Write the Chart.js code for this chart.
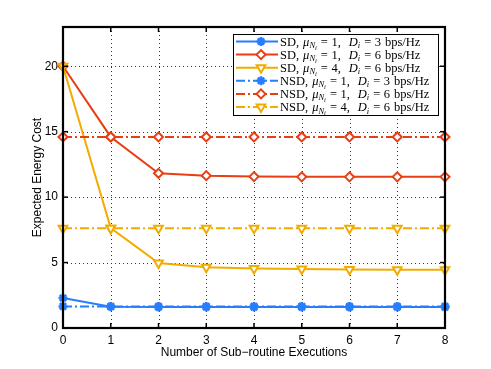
<!DOCTYPE html>
<html>
<head>
<meta charset="utf-8">
<script src="https://cdn.jsdelivr.net/npm/chart.js@4/dist/chart.umd.min.js"></script>
<style>
html,body{margin:0;padding:0;background:#fff;}
canvas{display:block;}
</style>
</head>
<body>
<canvas id="c" width="491" height="369"></canvas>
<script>
// ---- data ----
const xValues = [0, 1, 2, 3, 4, 5, 6, 7, 8];
const sdMu1D3  = [2.29, 1.62, 1.6, 1.6, 1.6, 1.6, 1.6, 1.6, 1.6];
const sdMu1D6  = [20, 14.6, 11.82, 11.64, 11.57, 11.55, 11.55, 11.55, 11.55];
const sdMu4D6  = [20, 7.63, 4.96, 4.65, 4.55, 4.5, 4.47, 4.45, 4.45];
const nsdMu1D3 = [1.65, 1.65, 1.65, 1.65, 1.65, 1.65, 1.65, 1.65, 1.65];
const nsdMu1D6 = [14.6, 14.6, 14.6, 14.6, 14.6, 14.6, 14.6, 14.6, 14.6];
const nsdMu4D6 = [7.63, 7.63, 7.63, 7.63, 7.63, 7.63, 7.63, 7.63, 7.63];
const yTicks = [0, 5, 10, 15, 20];
const xTicks = [0, 1, 2, 3, 4, 5, 6, 7, 8];
const seriesNames = ['SD', 'SD', 'SD', 'NSD', 'NSD', 'NSD'];
const seriesMu = ['1', '1', '4', '1', '1', '4'];
const seriesD = ['3', '6', '6', '3', '6', '6'];
const xTitle = 'Number of Sub\u2212routine Executions';
const yTitle = 'Expected Energy Cost';

const BLUE = 'rgb(40,125,255)';
const RED = 'rgb(232,62,20)';
const YEL = 'rgb(242,172,0)';
const DASHDOT = [9, 3, 2, 3];

function pts(arr){ return arr.map((v,i)=>({x:xValues[i], y:v})); }

function ds(data, color, style, dashed, idx, order){
  const base = {
    data: pts(data), borderColor: color, borderWidth: 2, borderDash: dashed ? DASHDOT : [],
    fill: false, tension: 0, clip: false, order: order,
    pointBorderColor: color, pointBorderWidth: 2, pointRadius: 5,
    pointBackgroundColor: '#fff', pointStyle: style, pointRotation: 0,
    label: seriesNames[idx]
  };
  if (style === 'star') { base.pointRadius = 4.5; base.pointBorderWidth = 2.5; base.pointBackgroundColor = color; }
  if (style === 'triangle') { base.pointRotation = 180; base.pointRadius = 5; }
  if (style === 'rectRot') { base.pointRadius = 4.5; }
  return base;
}

const datasets = [
  ds(sdMu1D3, BLUE, 'star', false, 0, 6),
  ds(sdMu1D6, RED, 'rectRot', false, 1, 5),
  ds(sdMu4D6, YEL, 'triangle', false, 2, 4),
  ds(nsdMu1D3, BLUE, 'star', true, 3, 3),
  ds(nsdMu1D6, RED, 'rectRot', true, 4, 2),
  ds(nsdMu4D6, YEL, 'triangle', true, 5, 1)
];

const frame = {
  id: 'frame',
  beforeDatasetsDraw(chart){
    const {ctx, chartArea: a, scales: {x, y}} = chart;
    ctx.save();
    ctx.strokeStyle = '#333';
    ctx.lineWidth = 1;
    ctx.setLineDash([1, 3]);
    xTicks.forEach(v => {
      const px = Math.round(x.getPixelForValue(v)) + 0.5;
      if (v === xTicks[0] || v === xTicks[xTicks.length-1]) return;
      ctx.beginPath(); ctx.moveTo(px, a.top); ctx.lineTo(px, a.bottom); ctx.stroke();
    });
    yTicks.forEach(v => {
      if (v === 0) return;
      const py = Math.round(y.getPixelForValue(v)) + 0.5;
      ctx.beginPath(); ctx.moveTo(a.left, py); ctx.lineTo(a.right, py); ctx.stroke();
    });
    ctx.restore();
  },
  afterDatasetsDraw(chart){
    const {ctx, chartArea: a, scales: {x, y}} = chart;
    ctx.save();
    ctx.setLineDash([]);
    ctx.strokeStyle = '#000';
    ctx.lineWidth = 1.5;
    const tl = 5;
    xTicks.forEach(v => {
      const px = x.getPixelForValue(v);
      ctx.beginPath(); ctx.moveTo(px, a.bottom); ctx.lineTo(px, a.bottom - tl); ctx.stroke();
      ctx.beginPath(); ctx.moveTo(px, a.top); ctx.lineTo(px, a.top + tl); ctx.stroke();
    });
    yTicks.forEach(v => {
      const py = y.getPixelForValue(v);
      ctx.beginPath(); ctx.moveTo(a.left, py); ctx.lineTo(a.left + tl, py); ctx.stroke();
      ctx.beginPath(); ctx.moveTo(a.right, py); ctx.lineTo(a.right - tl, py); ctx.stroke();
    });
    ctx.lineWidth = 2.2;
    ctx.strokeRect(a.left, a.top, a.right - a.left, a.bottom - a.top);

    // legend
    const bx = 233, by = 34, bw = 205, bh = 81;
    ctx.fillStyle = '#fff';
    ctx.fillRect(bx, by, bw, bh);
    ctx.lineWidth = 1;
    ctx.strokeStyle = '#000';
    ctx.strokeRect(bx + 0.5, by + 0.5, bw, bh);
    const rowH = 13.1;
    const serif = '"Liberation Serif", "DejaVu Serif", serif';
    for (let i = 0; i < datasets.length; i++) {
      const d = chart.data.datasets[i];
      const cy = by + 7.5 + i * rowH;
      ctx.save();
      ctx.strokeStyle = d.borderColor;
      ctx.lineWidth = 2;
      ctx.setLineDash(d.borderDash || []);
      ctx.beginPath(); ctx.moveTo(236, cy); ctx.lineTo(278, cy); ctx.stroke();
      ctx.setLineDash([]);
      ctx.fillStyle = d.pointBackgroundColor;
      ctx.strokeStyle = d.pointBorderColor;
      ctx.lineWidth = d.pointBorderWidth;
      if (Chart.helpers && Chart.helpers.drawPoint) {
        Chart.helpers.drawPoint(ctx, {pointStyle: d.pointStyle, rotation: d.pointRotation, radius: d.pointRadius, borderWidth: d.pointBorderWidth}, 261, cy);
      }
      ctx.restore();
      // text
      ctx.save();
      ctx.fillStyle = '#000';
      ctx.textBaseline = 'alphabetic';
      ctx.textAlign = 'left';
      let tx = 280;
      const base = cy + 4;
      const FS = 12.5;
      const seg = (t, size, style, dy, gap) => {
        ctx.font = (style || '') + ' ' + size + 'px ' + serif;
        ctx.fillText(t, tx, base + (dy || 0));
        tx += ctx.measureText(t).width + (gap || 0);
      };
      seg(seriesNames[i] + ',', FS, '', 0, 4);
      seg('\u03bc', FS, 'italic');
      seg('N', 8.5, 'italic', 2.5);
      seg('i', 6.5, 'italic', 4, 4);
      seg('=', FS, '', 0, 3.5);
      seg(seriesMu[i] + ',', FS, '', 0, 8);
      seg('D', FS, 'italic');
      seg('i', 8.5, 'italic', 2.5, 4);
      seg('=', FS, '', 0, 3.5);
      seg(seriesD[i], FS, '', 0, 4);
      seg('bps/Hz', FS, '');
      ctx.restore();
    }
    ctx.restore();
  }
};

new Chart(document.getElementById('c'), {
  type: 'line',
  data: { datasets: datasets },
  options: {
    responsive: false,
    animation: false,
    devicePixelRatio: 1,
    layout: { padding: { left: 0, top: 27, right: 46, bottom: 0 } },
    plugins: { legend: { display: false }, tooltip: { enabled: false } },
    scales: {
      x: {
        type: 'linear', min: 0, max: 8,
        afterBuildTicks(s){ s.ticks = xTicks.map(v => ({value: v})); },
        afterFit(s){ s.height = 41; },
        grid: { display: false, drawTicks: false },
        border: { display: false },
        ticks: { color: '#000', padding: 5, font: { family: '"Liberation Sans", Arial, sans-serif', size: 12 }, maxRotation: 0 },
        title: { display: true, text: xTitle, color: '#000', font: { family: '"Liberation Sans", Arial, sans-serif', size: 12 }, padding: { top: 0, bottom: 9 } }
      },
      y: {
        type: 'linear', min: 0, max: 23,
        afterBuildTicks(s){ s.ticks = yTicks.map(v => ({value: v})); },
        afterFit(s){ s.width = 63; },
        grid: { display: false, drawTicks: false },
        border: { display: false },
        ticks: { color: '#000', padding: 5, font: { family: '"Liberation Sans", Arial, sans-serif', size: 12 } },
        title: { display: true, text: yTitle, color: '#000', font: { family: '"Liberation Sans", Arial, sans-serif', size: 12 }, padding: { top: 30, bottom: 0 } }
      }
    }
  },
  plugins: [frame]
});
</script>
</body>
</html>
